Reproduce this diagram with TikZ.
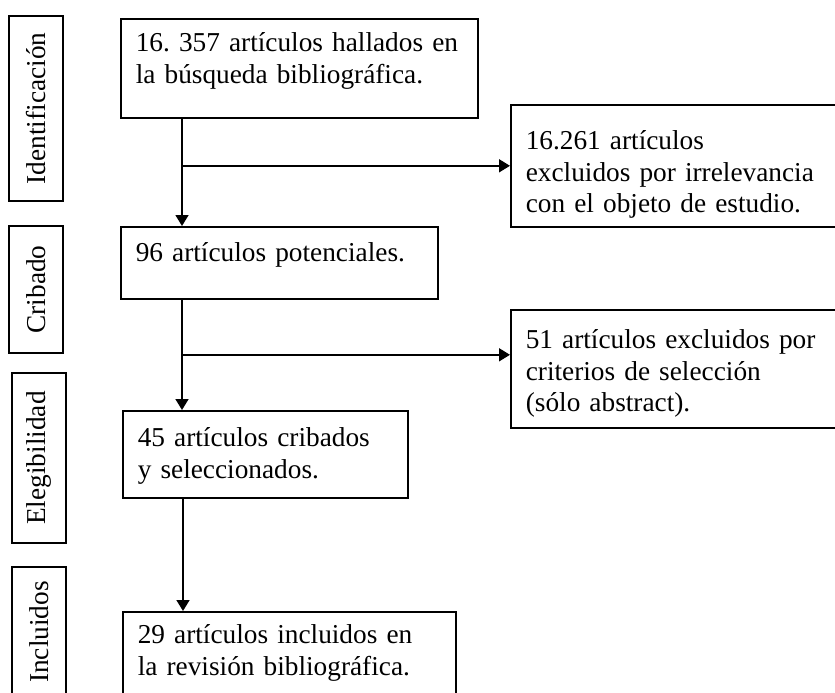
\documentclass[tikz,border=0pt]{standalone}
\usepackage{fontspec}
\setmainfont{Liberation Serif}
\usetikzlibrary{arrows.meta, positioning, calc}
\frenchspacing
\newcommand{\cuerpo}{\fontsize{27.3}{31.4}\selectfont}
\tikzset{
  caja/.style={draw=black, rectangle, anchor=north west, align=left, inner xsep=15pt, inner ysep=0pt, line width=1.6pt, font=\cuerpo},
  fase/.style={draw=black, rectangle, rotate=90, inner sep=0pt, minimum height=54pt, line width=1.6pt, font=\cuerpo},
  flecha/.style={-{Triangle[length=11pt, width=13pt]}, line width=1.6pt, draw=black}
}

\begin{document}
\begin{tikzpicture}[x=1pt, y=-1pt]
\useasboundingbox (0,0) rectangle (835,693);
\clip (0,0) rectangle (835,693);

% fases de la revision
\node[fase, minimum width=185pt] (ident) at (36,108.5) {Identificación};
\node[fase, minimum width=127pt] (cribado) at (36,289.5) {Cribado};
\node[fase, minimum width=170pt] (eleg) at (39,458) {Elegibilidad};
\node[fase, minimum width=130pt] (incl) at (39,632) {Incluidos};

% columna principal
\node[caja, text width=327pt, text height=33pt, text depth=66pt] (hallados) at (120,18) {16. 357 artículos hallados en\\la búsqueda bibliográfica.};
\node[caja, text width=287pt, text height=35pt, text depth=37pt] (potenciales) at (120,226) {96 artículos potenciales.};
\node[caja, text width=255pt, text height=36pt, text depth=51pt] (cribados) at (122,410) {45 artículos cribados\\y seleccionados.};
\node[caja, text width=303pt, text height=32pt, text depth=68pt] (incluidos) at (122,611) {29 artículos incluidos en\\la revisión bibliográfica.};

% excluidos (cortados por el borde derecho)
\node[caja, text width=330pt, text height=45pt, text depth=77pt] (irrelevancia) at (510,104) {16.261 artículos\\excluidos por irrelevancia\\con el objeto de estudio.};
\node[caja, text width=330pt, text height=39pt, text depth=79pt] (criterios) at (510,309) {51 artículos excluidos por\\criterios de selección\\(sólo abstract).};

\coordinate (tronco1) at ([xshift=62pt]hallados.south west);
\coordinate (tronco2) at ([xshift=62pt]potenciales.south west);
\coordinate (tronco3) at ([xshift=61pt]cribados.south west);

\draw[flecha] (tronco1) -- (tronco1 |- potenciales.north);
\draw[flecha] (tronco1 |- irrelevancia.west) -- (irrelevancia.west);
\draw[flecha] (tronco2) -- (tronco2 |- cribados.north);
\draw[flecha] ([yshift=14pt]criterios.west -| tronco2) -- ([yshift=14pt]criterios.west);
\draw[flecha] (tronco3) -- (tronco3 |- incluidos.north);

\end{tikzpicture}
\end{document}
